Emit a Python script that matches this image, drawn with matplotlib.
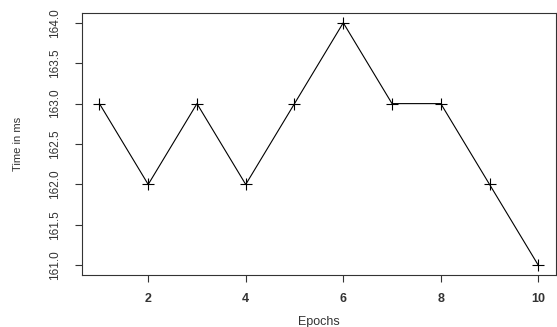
import matplotlib
matplotlib.use("Agg")
import matplotlib.pyplot as plt

epochs = [1, 2, 3, 4, 5, 6, 7, 8, 9, 10]
time_ms = [163, 162, 163, 162, 163, 164, 163, 163, 162, 161]
x_ticks = [2, 4, 6, 8, 10]
y_ticks = [161.0, 161.5, 162.0, 162.5, 163.0, 163.5, 164.0]

plt.rcParams['font.family'] = ['Liberation Sans', 'DejaVu Sans']

fig = plt.figure(figsize=(5.57, 3.27), dpi=100)
ax = fig.add_axes([0.147, 0.159, 0.851, 0.801])

ax.plot(epochs, time_ms, color='black', linewidth=0.8, marker='+',
        markersize=9, markeredgewidth=0.8)

# R-style 4% padding
ax.set_xlim(1 - 0.36, 10 + 0.36)
ax.set_ylim(161 - 0.12, 164 + 0.12)

ax.set_xticks(x_ticks)
ax.set_xticklabels([str(t) for t in x_ticks], fontweight='bold')
ax.set_yticks(y_ticks)
ax.set_yticklabels(['%.1f' % t for t in y_ticks], rotation=90, va='center')

ax.tick_params(axis='both', colors='#333333', length=5, width=0.8, direction='out')
ax.tick_params(axis='x', labelsize=9, pad=8)
ax.tick_params(axis='y', labelsize=8.5, pad=10)

for s in ax.spines.values():
    s.set_color('#333333')
    s.set_linewidth(0.8)

ax.set_xlabel('Epochs', fontsize=9, color='#333333', labelpad=8)
ax.set_ylabel('Time in ms', fontsize=8, color='#333333', labelpad=19)

fig.savefig('out.png', dpi=100)
